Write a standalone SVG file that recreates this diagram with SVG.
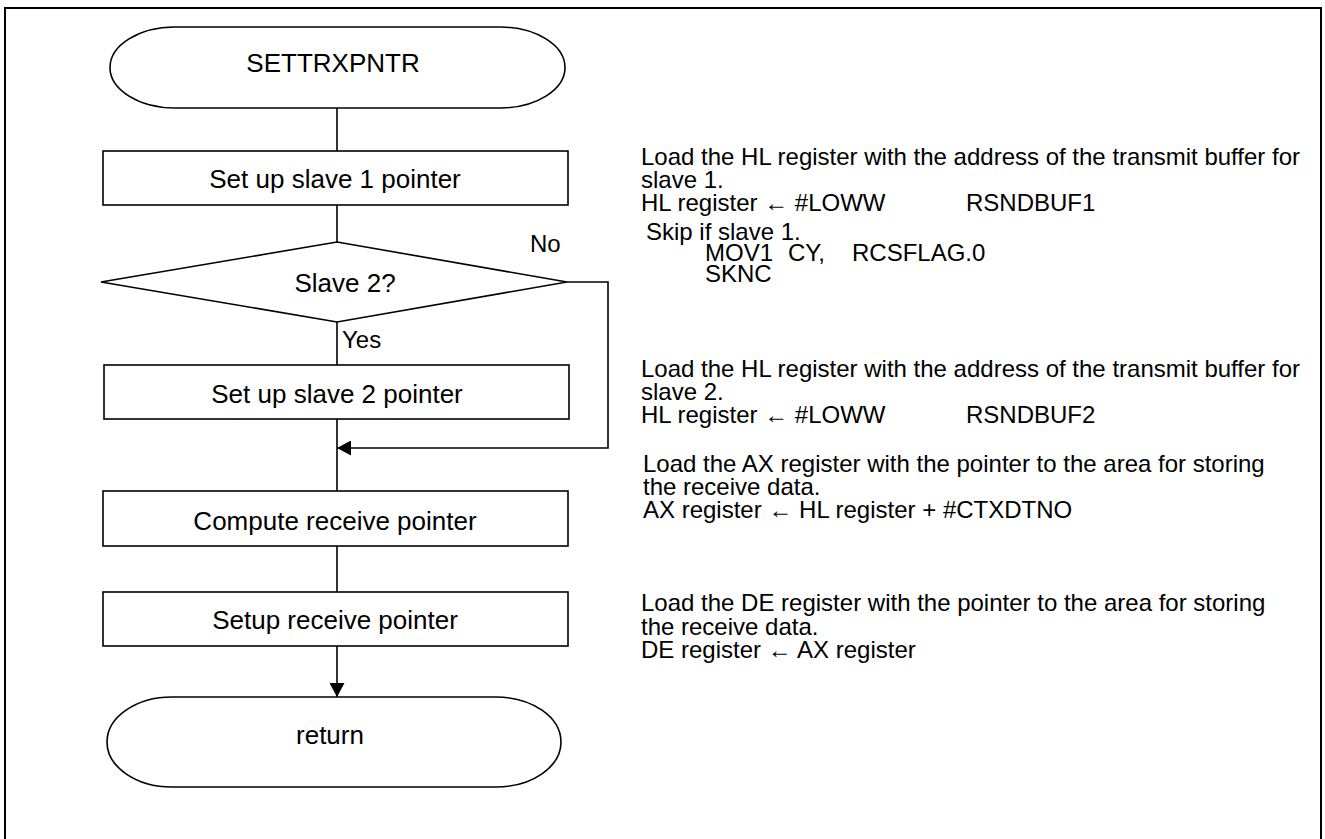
<svg xmlns="http://www.w3.org/2000/svg" width="1325" height="839" viewBox="0 0 1325 839">
<style>
.bg{fill:#fff}
.frame{fill:none;stroke:#000;stroke-width:2}
.shape{fill:#fff;stroke:#000;stroke-width:1.6}
.line{fill:none;stroke:#000;stroke-width:1.6}
.lbl{font-family:"Liberation Sans",Arial,sans-serif;font-size:26px;fill:#000;text-anchor:middle}
.yn{font-family:"Liberation Sans",Arial,sans-serif;font-size:24px;fill:#000}
.note{font-family:"Liberation Sans",Arial,sans-serif;font-size:24px;fill:#000}
</style>
<defs>
<marker id="ah" markerWidth="14" markerHeight="15" refX="14" refY="7.5" orient="auto" markerUnits="userSpaceOnUse">
<path d="M0,0 L14,7.5 L0,15 Z" fill="#000"/>
</marker>
</defs>
<rect class="bg" x="0" y="0" width="1325" height="839"/>
<path class="frame" d="M5,850 L5,8 L1321,8 L1321,850"/>
<g id="connectors">
<line class="line" x1="337" y1="108" x2="337" y2="151"/>
<line class="line" x1="337" y1="205" x2="337" y2="242"/>
<line class="line" x1="337" y1="322" x2="337" y2="365"/>
<line class="line" x1="337" y1="419" x2="337" y2="491"/>
<polyline class="line" points="567,282 608,282 608,448 337,448" marker-end="url(#ah)"/>
<line class="line" x1="337" y1="546" x2="337" y2="592"/>
<line class="line" x1="337" y1="646" x2="337" y2="697" marker-end="url(#ah)"/>
<text class="yn" x="530" y="252">No</text>
<text class="yn" x="342" y="348">Yes</text>
</g>
<g id="start">
<rect class="shape" x="110" y="27" width="455" height="81" rx="65" ry="40.5"/>
<text class="lbl" x="333" y="72">SETTRXPNTR</text>
</g>
<g id="slave1">
<rect class="shape" x="103" y="151" width="465" height="54"/>
<text class="lbl" x="335" y="188">Set up slave 1 pointer</text>
</g>
<g id="decision">
<polygon class="shape" points="337,242 567,282 337,322 101,282"/>
<text class="lbl" x="345" y="292">Slave 2?</text>
</g>
<g id="slave2">
<rect class="shape" x="104" y="365" width="465" height="54"/>
<text class="lbl" x="337" y="403">Set up slave 2 pointer</text>
</g>
<g id="compute">
<rect class="shape" x="103" y="491" width="465" height="55"/>
<text class="lbl" x="335" y="530">Compute receive pointer</text>
</g>
<g id="setup">
<rect class="shape" x="103" y="592" width="465" height="54"/>
<text class="lbl" x="335" y="629">Setup receive pointer</text>
</g>
<g id="return">
<rect class="shape" x="107" y="697" width="454" height="90" rx="65" ry="45"/>
<text class="lbl" x="330" y="744">return</text>
</g>
<g id="notes">
<text class="note" x="641" y="165">Load the HL register with the address of the transmit buffer for</text>
<text class="note" x="641" y="188">slave 1.</text>
<text class="note" x="641" y="211">HL register ← #LOWW</text>
<text class="note" x="966" y="211">RSNDBUF1</text>
<text class="note" x="646" y="240">Skip if slave 1.</text>
<text class="note" x="705" y="261">MOV1</text>
<text class="note" x="788" y="261">CY,</text>
<text class="note" x="852" y="261">RCSFLAG.0</text>
<text class="note" x="705" y="282">SKNC</text>
<text class="note" x="641" y="377">Load the HL register with the address of the transmit buffer for</text>
<text class="note" x="641" y="400">slave 2.</text>
<text class="note" x="641" y="423">HL register ← #LOWW</text>
<text class="note" x="966" y="423">RSNDBUF2</text>
<text class="note" x="643" y="472">Load the AX register with the pointer to the area for storing</text>
<text class="note" x="643" y="495">the receive data.</text>
<text class="note" x="643" y="518">AX register ← HL register + #CTXDTNO</text>
<text class="note" x="641" y="611">Load the DE register with the pointer to the area for storing</text>
<text class="note" x="641" y="635">the receive data.</text>
<text class="note" x="641" y="658">DE register ← AX register</text>
</g>
</svg>
